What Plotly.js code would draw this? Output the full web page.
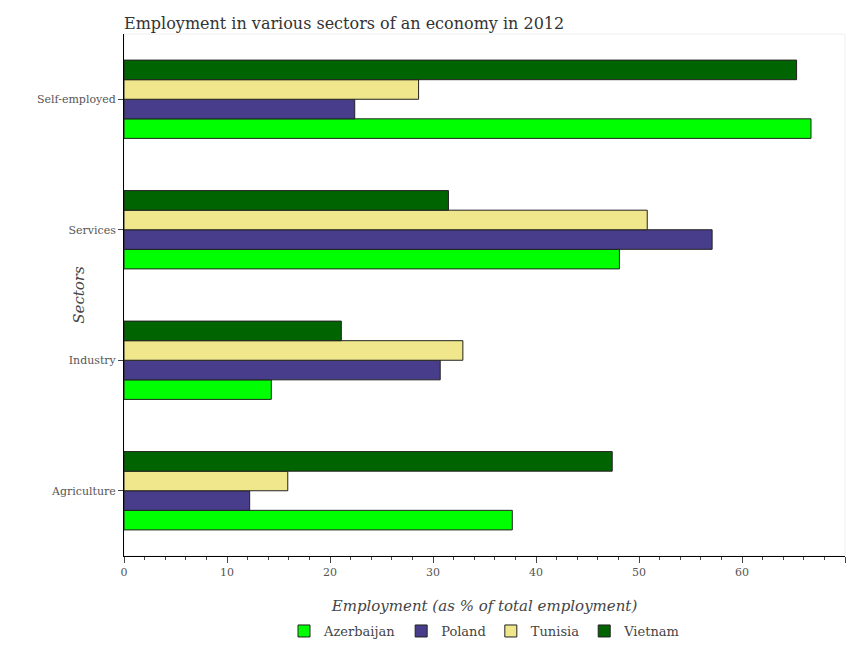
<!DOCTYPE html><html><head><script src="https://cdn.plot.ly/plotly-3.0.1.min.js"></script></head><body style="margin:0"><div id="c" style="width:849px;height:650px"></div><script>
const sectors=["Agriculture","Industry","Services","Self-employed"];
const azerbaijan=[37.7,14.3,48.1,66.7];
const poland=[12.2,30.7,57.1,22.4];
const tunisia=[15.9,32.9,50.8,28.6];
const vietnam=[47.4,21.1,31.5,65.3];
const series=[["Azerbaijan",azerbaijan,"#00ff00"],["Poland",poland,"#483d8b"],["Tunisia",tunisia,"#f0e68c"],["Vietnam",vietnam,"#006400"]];
const data=series.map(s=>({type:"bar",orientation:"h",name:s[0],x:s[1],y:sectors,marker:{color:s[2],line:{color:"#222",width:1}}}));
Plotly.newPlot("c",data,{
width:849,height:650,barmode:"group",bargap:0.4,bargroupgap:0,
font:{family:"DejaVu Serif",size:11,color:"#555"},
title:{text:"Employment in various sectors of an economy in 2012",x:125,xref:"paper",xanchor:"left",y:0.972,font:{size:16,color:"#333"}},
margin:{l:124,r:4,t:34,b:94},
plot_bgcolor:"white",
shapes:[{type:"rect",xref:"paper",yref:"paper",x0:0,x1:1,y0:0,y1:1,line:{color:"#eee",width:1},layer:"below"}],
xaxis:{range:[0,70],dtick:10,showgrid:false,zeroline:false,showline:true,linecolor:"#000",ticks:"outside",ticklen:6,
 minor:{dtick:2,ticks:"outside",ticklen:3},title:{text:"<i>Employment (as % of total employment)</i>",font:{size:15,color:"#444"}}},
yaxis:{showline:true,linecolor:"#000",ticks:"outside",ticklen:5,title:{text:"<i>Sectors</i>",font:{size:15,color:"#444"}}},
legend:{orientation:"h",x:0.5,xanchor:"center",y:-0.115,font:{size:13,color:"#444"}},
showlegend:true},{displayModeBar:false});
Plotly.relayout("c",{"title.x":0,"title.xref":"paper"});
</script></body></html>
